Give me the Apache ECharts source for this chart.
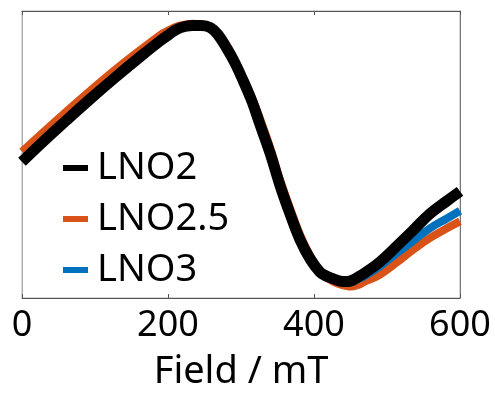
<!DOCTYPE html>
<html><head><meta charset="utf-8">
<script src="https://cdn.jsdelivr.net/npm/echarts@6/dist/echarts.min.js"></script>
<style>html,body{margin:0;padding:0;background:#fff}#c{width:495px;height:396px}</style>
</head><body><div id="c"></div>
<script>
const seriesNames = ['LNO2', 'LNO2.5', 'LNO3'];
const xTicks = [0, 200, 400, 600];
const axisTitle = 'Field / mT';

const fieldLNO2 = [0, 31, 59, 93, 127, 162, 189, 201, 212, 223, 234, 245, 258, 268, 281, 292, 303, 315, 326, 340, 353, 367, 381, 395, 408, 416, 426, 436, 445, 452, 459, 470, 490, 514, 536, 559, 582, 600];
const valLNO2   = [-0.05, 0.10, 0.23, 0.385, 0.534, 0.682, 0.791, 0.835, 0.872, 0.892, 0.899, 0.899, 0.885, 0.838, 0.736, 0.635, 0.514, 0.370, 0.209, 0.007, -0.209, -0.412, -0.595, -0.730, -0.818, -0.845, -0.865, -0.882, -0.885, -0.878, -0.858, -0.824, -0.750, -0.635, -0.527, -0.412, -0.324, -0.257];

const fieldLNO25 = [0, 59, 127, 189, 201, 212, 223, 234, 245, 258, 268, 281, 292, 303, 315, 326, 340, 353, 367, 381, 395, 408, 416, 426, 436, 445, 452, 459, 470, 490, 514, 536, 559, 582, 600];
const valLNO25   = [0.02, 0.291, 0.588, 0.831, 0.865, 0.892, 0.905, 0.912, 0.908, 0.892, 0.851, 0.757, 0.650, 0.534, 0.395, 0.25, 0.047, -0.169, -0.372, -0.561, -0.709, -0.811, -0.850, -0.885, -0.905, -0.917, -0.920, -0.912, -0.885, -0.838, -0.750, -0.662, -0.581, -0.514, -0.466];

const fieldLNO3 = [0, 31, 59, 93, 127, 162, 189, 201, 212, 223, 234, 245, 258, 268, 281, 292, 303, 315, 326, 340, 353, 367, 381, 395, 408, 416, 426, 436, 445, 452, 459, 470, 490, 514, 536, 559, 582, 600];
const valLNO3   = [-0.05, 0.10, 0.23, 0.385, 0.534, 0.682, 0.791, 0.835, 0.872, 0.892, 0.899, 0.899, 0.885, 0.838, 0.736, 0.635, 0.514, 0.370, 0.209, 0.007, -0.209, -0.412, -0.595, -0.730, -0.818, -0.845, -0.868, -0.888, -0.893, -0.888, -0.872, -0.845, -0.780, -0.685, -0.601, -0.514, -0.446, -0.392];

const pairs = (xs, ys) => xs.map((x, i) => [x, ys[i]]);
const FONT = '"Noto Sans", sans-serif';

const chart = echarts.init(document.getElementById('c'));
chart.setOption({
  animation: false,
  backgroundColor: '#fff',
  grid: { left: 22, right: 35, top: 11, bottom: 89, show: true, borderColor: '#b0b0b0', borderWidth: 1 },
  legend: {
    data: seriesNames,
    orient: 'vertical',
    left: 63, top: 148,
    padding: 0,
    itemGap: 11,
    itemWidth: 25, itemHeight: 6,
    icon: 'rect',
    textStyle: { fontFamily: FONT, fontSize: 38, color: '#000', lineHeight: 40, padding: [0, 0, 0, 4] }
  },
  xAxis: [{
    type: 'value', position: 'bottom', min: 0, max: 600, interval: 200,
    axisLine: { show: true, onZero: false, lineStyle: { color: '#555', width: 1 } },
    axisTick: { show: true, inside: true, length: 4, lineStyle: { color: '#555' } },
    axisLabel: { fontFamily: FONT, fontSize: 36, color: '#000', margin: 10,
      formatter: v => xTicks.includes(v) ? String(v) : '' },
    splitLine: { show: false },
    name: axisTitle, nameLocation: 'middle', nameGap: 55,
    nameTextStyle: { fontFamily: FONT, fontSize: 38, color: '#000' }
  }, {
    type: 'value', position: 'top', min: 0, max: 600, interval: 200,
    axisLine: { show: true, onZero: false, lineStyle: { color: '#555', width: 1 } },
    axisTick: { show: true, inside: true, length: 4, lineStyle: { color: '#555' } },
    axisLabel: { show: false }, splitLine: { show: false }
  }],
  yAxis: [{
    type: 'value', min: -1, max: 1,
    axisLine: { show: true, onZero: false, lineStyle: { color: '#b0b0b0' } },
    axisTick: { show: false }, axisLabel: { show: false }, splitLine: { show: false }
  }, {
    type: 'value', position: 'right', min: -1, max: 1,
    axisLine: { show: true, onZero: false, lineStyle: { color: '#777' } },
    axisTick: { show: false }, axisLabel: { show: false }, splitLine: { show: false }
  }],
  series: [
    { name: 'LNO2.5', type: 'line', data: pairs(fieldLNO25, valLNO25), showSymbol: false, smooth: 0.4,
      color: '#D95319', lineStyle: { width: 8, color: '#D95319' }, z: 2 },
    { name: 'LNO3', type: 'line', data: pairs(fieldLNO3, valLNO3), showSymbol: false, smooth: 0.4,
      color: '#0072BD', lineStyle: { width: 8, color: '#0072BD' }, z: 3 },
    { name: 'LNO2', type: 'line', data: pairs(fieldLNO2, valLNO2), showSymbol: false, smooth: 0.4,
      color: '#000', lineStyle: { width: 11, color: '#000' }, z: 4 }
  ]
});
</script></body></html>
